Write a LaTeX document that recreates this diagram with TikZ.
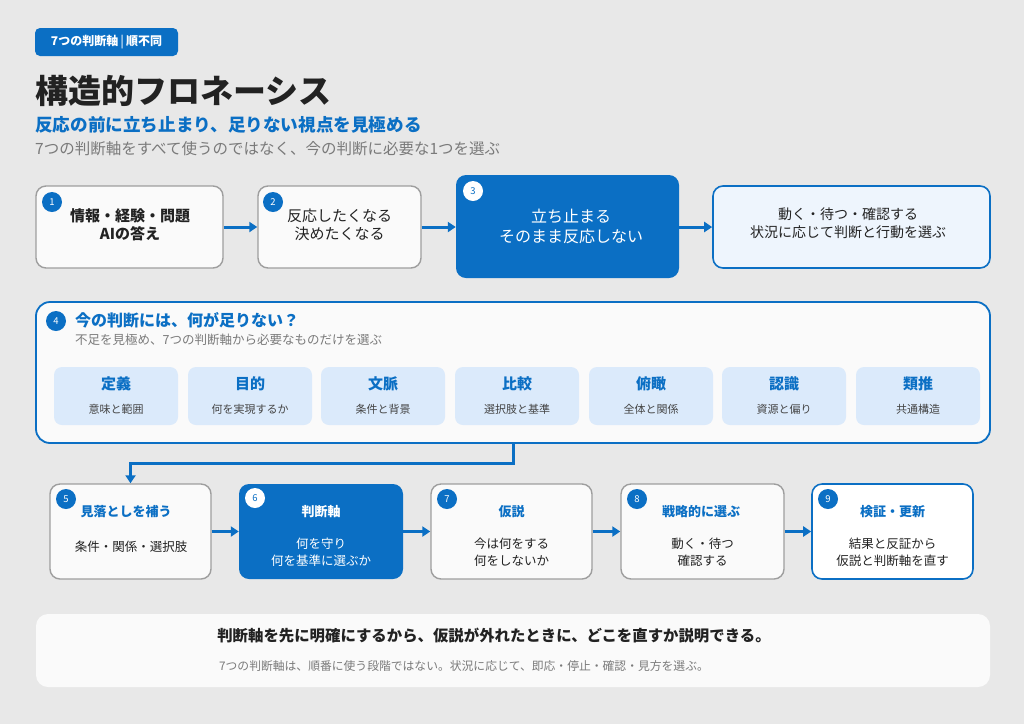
\documentclass[tikz,border=0pt]{standalone}
\usepackage{fontspec}
\setmainfont{Noto Sans CJK JP}
\usetikzlibrary{arrows.meta}
\definecolor{bg}{HTML}{E8E8E8}
\definecolor{mblue}{HTML}{0B6FC4}
\definecolor{boxfill}{HTML}{FAFAFA}
\definecolor{gborder}{HTML}{9E9E9E}
\definecolor{lightfill}{HTML}{EEF5FD}
\definecolor{subfill}{HTML}{DBEAFB}
\definecolor{dark}{HTML}{222222}
\definecolor{graytxt}{HTML}{7A7A7A}
\definecolor{subtxt}{HTML}{444444}
\begin{document}
\begin{tikzpicture}[x=1pt,y=-1pt,
  card/.style={draw=gborder, line width=1.4pt, fill=boxfill, rounded corners=10pt, inner sep=0pt},
  bluecard/.style={fill=mblue, rounded corners=10pt, inner sep=0pt},
  txt/.style={inner sep=0pt, align=center, text=dark},
  badge/.style={circle, fill=mblue, text=white, minimum size=20pt, inner sep=0pt, font=\fontsize{9.5}{10}\selectfont},
  wbadge/.style={circle, fill=white, text=mblue, minimum size=20pt, inner sep=0pt, font=\fontsize{9.5}{10}\selectfont},
  conn/.style={draw=mblue, line width=3pt, -{Triangle[length=8pt,width=10pt]}},
  axbox/.style={fill=subfill, rounded corners=8pt, minimum width=124pt, minimum height=58pt, inner sep=0pt},
  ttl/.style={font=\bfseries\fontsize{13}{16}\selectfont, text=mblue, inner sep=0pt},
  body/.style={font=\fontsize{12.5}{17}\selectfont, text=dark, align=center, inner sep=0pt}
]
\fill[bg] (0,0) rectangle (1024,724);
\useasboundingbox (0,0) rectangle (1024,724);

% header
\node[fill=mblue, rounded corners=5pt, minimum width=143pt, minimum height=28pt, inner sep=0pt, text=white, font=\bfseries\fontsize{12}{14}\selectfont] (tag) at (106.5,42) {7つの判断軸\,{\color{white!65!mblue}|}\,順不同};
\node[anchor=base west, inner sep=0pt, text=dark, font=\bfseries\fontsize{33}{36}\selectfont] (title) at (35,103) {構造的フロネーシス};
\node[anchor=base west, inner sep=0pt, text=mblue, font=\bfseries\fontsize{17.6}{20}\selectfont] (sub) at (35,131) {反応の前に立ち止まり、足りない視点を見極める};
\node[anchor=base west, inner sep=0pt, text=graytxt, font=\fontsize{15.5}{18}\selectfont] (lead) at (35,154) {7つの判断軸をすべて使うのではなく、今の判断に必要な1つを選ぶ};

% row 1
\node[card, minimum width=187pt, minimum height=82pt] (b1) at (129.5,227) {};
\node[card, minimum width=163pt, minimum height=82pt] (b2) at (339.5,227) {};
\node[bluecard, minimum width=223pt, minimum height=103pt] (b3) at (567.5,226.5) {};
\node[draw=mblue, line width=1.6pt, fill=lightfill, rounded corners=10pt, inner sep=0pt, minimum width=277pt, minimum height=82pt] (b4) at (851.5,227) {};
\node[txt, font=\bfseries\fontsize{15}{18}\selectfont] (x1) at (130,225) {情報・経験・問題\\AIの答え};
\node[txt, font=\fontsize{15}{18}\selectfont] (x2) at (339.5,225) {反応したくなる\\決めたくなる};
\node[txt, text=white, font=\fontsize{16}{20}\selectfont] (x3) at (571,226) {立ち止まる\\そのまま反応しない};
\node[txt, font=\fontsize{14}{18}\selectfont] (x4) at (848,223.5) {動く・待つ・確認する\\状況に応じて判断と行動を選ぶ};
\node[badge] (n1) at (52,202) {1};
\node[badge] (n2) at (273,202) {2};
\node[wbadge] (n3) at (473,191) {3};
\draw[conn] (b1.east) -- (b2.west);
\draw[conn] (b2.east) -- (b3.west |- b2.east);
\draw[conn] (b3.east |- b4.west) -- (b4.west);

% panel 4
\node[draw=mblue, line width=1.8pt, fill=boxfill, rounded corners=14pt, minimum width=954pt, minimum height=141pt, inner sep=0pt] (panel) at (513,372.5) {};
\node[badge] (n4) at (56,321) {4};
\node[anchor=base west, inner sep=0pt, text=mblue, font=\bfseries\fontsize{16}{19}\selectfont] (ptitle) at (75,326) {今の判断には、何が足りない？};
\node[anchor=base west, inner sep=0pt, text=graytxt, font=\fontsize{12.5}{15}\selectfont] (psub) at (75,344) {不足を見極め、7つの判断軸から必要なものだけを選ぶ};
\foreach \i/\cx/\t/\s in {1/116/定義/意味と範囲, 2/250/目的/何を実現するか, 3/383/文脈/条件と背景, 4/517/比較/選択肢と基準, 5/651/俯瞰/全体と関係, 6/784/認識/資源と偏り, 7/918/類推/共通構造}{
  \node[axbox] (a\i) at (\cx,396) {};
  \node[text=mblue, font=\bfseries\fontsize{15}{18}\selectfont, inner sep=0pt] (at\i) at (\cx,384) {\t};
  \node[text=subtxt, font=\fontsize{11}{13}\selectfont, inner sep=0pt] (as\i) at (\cx,409) {\s};
}

% row 3
\node[card, minimum width=161pt, minimum height=95pt] (b5) at (130.5,531.5) {};
\node[bluecard, minimum width=164pt, minimum height=95pt] (b6) at (321,531.5) {};
\node[card, minimum width=161pt, minimum height=95pt] (b7) at (511.5,531.5) {};
\node[card, minimum width=163pt, minimum height=95pt] (b8) at (702.5,531.5) {};
\node[card, draw=mblue, line width=1.6pt, fill=white, minimum width=161pt, minimum height=95pt] (b9) at (892.5,531.5) {};
\node[badge] (n5) at (66,499) {5};
\node[wbadge] (n6) at (255,498) {6};
\node[badge] (n7) at (447,499) {7};
\node[badge] (n8) at (637,499) {8};
\node[badge] (n9) at (828,499) {9};

\node[ttl] (t5) at (126,512) {見落としを補う};
\node[body] (d5) at (131,547) {条件・関係・選択肢};
\node[ttl, text=white] (t6) at (321,512) {判断軸};
\node[body, text=white] (d6) at (321,552) {何を守り\\何を基準に選ぶか};
\node[ttl] (t7) at (511.5,512) {仮説};
\node[body] (d7) at (511.5,552) {今は何をする\\何をしないか};
\node[ttl] (t8) at (701,512) {戦略的に選ぶ};
\node[body] (d8) at (702.5,552) {動く・待つ\\確認する};
\node[ttl] (t9) at (892.5,512) {検証・更新};
\node[body] (d9) at (892.5,552) {結果と反証から\\仮説と判断軸を直す};

\draw[conn] (b5.east) -- (b6.west);
\draw[conn] (b6.east) -- (b7.west);
\draw[conn] (b7.east) -- (b8.west);
\draw[conn] (b8.east) -- (b9.west);
\draw[conn] (panel.south) -- ++(0,20) -| (b5.north);

% bottom panel
\node[fill=boxfill, rounded corners=12pt, minimum width=954pt, minimum height=73pt, inner sep=0pt] (foot) at (513,650.5) {};
\node[text=dark, font=\bfseries\fontsize{15.4}{18}\selectfont, inner sep=0pt] (f1) at (494,636) {判断軸を先に明確にするから、仮説が外れたときに、どこを直すか説明できる。};
\node[text=graytxt, font=\fontsize{11.8}{14}\selectfont, inner sep=0pt] (f2) at (464,666) {7つの判断軸は、順番に使う段階ではない。状況に応じて、即応・停止・確認・見方を選ぶ。};
\end{tikzpicture}
\end{document}
